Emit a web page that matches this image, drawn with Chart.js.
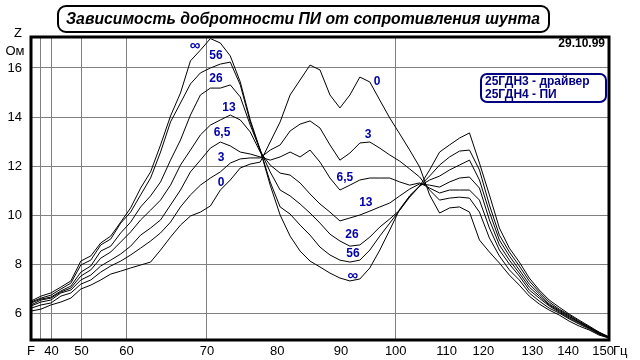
<!DOCTYPE html>
<html>
<head>
<meta charset="utf-8">
<script src="https://cdn.jsdelivr.net/npm/chart.js@4.4.1/dist/chart.umd.min.js"></script>
<style>
  html, body { margin: 0; padding: 0; background: #fff; }
  canvas { display: block; }
</style>
</head>
<body>
<canvas id="chart" width="640" height="360"></canvas>
<script>
// Sample positions along the sweep (the recorder's x axis is not linear in Hz)
const sweepPos = Array.from({ length: 59 }, (_, i) => i);

// x axis marks: where they sit on the sweep, and what is printed under them
const freqTickPos    = [0, 1.0, 2.05, 5.07, 9.58, 17.66, 24.7, 31.1, 36.6, 41.7, 45.4, 50.3, 53.9, 57.4];
const freqTickLabels = ['F', '', '40', '50', '60', '70', '80', '90', '100', '110', '120', '130', '140', '150'];
const freqGrid       = [false, true, true, true, true, true, false, false, true, false, false, false, false, false];

const zTicks = [6, 8, 10, 12, 14, 16];

// Z, Ohm for each shunt resistance
const zInf = [6.49, 6.69, 6.82, 7.06, 7.31, 8.12, 8.33, 8.86, 9.14, 9.71, 10.29, 11.10, 11.76, 12.86, 14.04, 14.98, 16.29, 16.73, 17.20, 17.02,
              16.49, 15.43, 13.88, 12.65, 11.22, 10.00, 9.14, 8.53, 8.12, 7.88, 7.63, 7.43, 7.31, 7.39, 7.84, 8.57, 9.39, 10.24, 10.78, 11.18,
              11.84, 12.57, 12.86, 13.14, 13.35, 12.12, 10.82, 9.47, 8.65, 8.08, 7.43, 6.94, 6.53, 6.24, 5.96, 5.71, 5.47, 5.22, 5.02];
const z56  = [6.45, 6.61, 6.73, 6.98, 7.22, 7.96, 8.16, 8.78, 9.02, 9.67, 10.12, 10.82, 11.51, 12.57, 13.80, 14.57, 15.35, 15.80, 16.00, 16.16,
              16.24, 15.31, 13.80, 12.65, 11.35, 10.33, 10.04, 9.59, 9.18, 8.69, 8.37, 8.16, 8.08, 8.16, 8.57, 9.14, 9.67, 10.20, 10.73, 11.18,
              11.59, 12.04, 12.37, 12.61, 12.65, 11.84, 10.41, 9.18, 8.49, 7.92, 7.31, 6.86, 6.45, 6.16, 5.92, 5.67, 5.43, 5.22, 5.02];
const z26  = [6.41, 6.57, 6.65, 6.90, 7.10, 7.67, 7.92, 8.53, 8.73, 9.27, 9.71, 10.33, 10.78, 11.35, 12.24, 13.06, 14.08, 14.90, 15.18, 15.18,
              15.31, 14.82, 13.67, 12.65, 11.76, 11.02, 10.78, 10.45, 10.08, 9.67, 9.22, 8.94, 8.73, 8.78, 9.10, 9.51, 9.84, 10.20, 10.78, 11.18,
              11.43, 11.59, 11.84, 12.04, 12.24, 11.43, 10.12, 8.98, 8.33, 7.76, 7.18, 6.78, 6.37, 6.12, 5.88, 5.63, 5.43, 5.18, 5.02];
const z13  = [6.33, 6.53, 6.61, 6.86, 7.02, 7.51, 7.76, 8.24, 8.49, 8.90, 9.31, 9.80, 10.20, 10.61, 11.22, 12.04, 12.65, 13.27, 13.67, 13.88,
              14.08, 13.88, 13.39, 12.57, 12.04, 11.71, 11.63, 11.31, 10.86, 10.45, 10.12, 9.76, 9.88, 10.00, 10.16, 10.33, 10.49, 10.78, 11.06, 11.27,
              11.22, 11.14, 11.35, 11.51, 11.55, 11.10, 9.80, 8.78, 8.16, 7.63, 7.06, 6.69, 6.33, 6.08, 5.84, 5.63, 5.39, 5.18, 5.02];
const z6_5 = [6.29, 6.45, 6.53, 6.82, 6.94, 7.35, 7.55, 7.92, 8.16, 8.41, 8.73, 9.18, 9.47, 9.80, 10.41, 11.02, 11.76, 12.24, 12.73, 12.98,
              12.82, 12.57, 12.49, 12.37, 12.24, 12.37, 12.57, 12.37, 12.65, 12.16, 11.51, 11.02, 11.22, 11.43, 11.51, 11.51, 11.51, 11.35, 11.22, 11.31,
              11.10, 10.90, 11.02, 11.02, 11.02, 10.61, 9.47, 8.57, 8.00, 7.51, 6.94, 6.61, 6.29, 6.04, 5.80, 5.59, 5.39, 5.14, 5.02];
const z3   = [6.20, 6.33, 6.41, 6.69, 6.82, 7.18, 7.35, 7.67, 7.92, 8.12, 8.37, 8.65, 8.94, 9.27, 9.71, 10.33, 10.82, 11.22, 11.51, 11.76,
              12.12, 12.29, 12.33, 12.33, 12.65, 12.86, 13.43, 13.71, 13.84, 13.55, 12.86, 12.24, 12.53, 12.94, 12.98, 12.73, 12.45, 12.20, 11.88, 11.55,
              11.02, 10.61, 10.69, 10.73, 10.69, 10.12, 9.06, 8.33, 7.76, 7.35, 6.82, 6.49, 6.20, 6.00, 5.76, 5.55, 5.35, 5.14, 4.98];
const z0   = [6.08, 6.16, 6.33, 6.45, 6.61, 6.98, 7.14, 7.35, 7.59, 7.71, 7.84, 7.96, 8.08, 8.57, 9.10, 9.59, 9.96, 10.12, 10.37, 11.02,
              11.43, 11.92, 12.08, 12.16, 12.98, 13.80, 14.90, 15.51, 16.12, 15.92, 14.90, 14.37, 14.90, 15.63, 15.43, 14.69, 13.96, 13.31, 12.65, 11.96,
              10.82, 10.08, 10.29, 10.33, 10.12, 8.98, 8.49, 8.04, 7.55, 7.14, 6.69, 6.37, 6.12, 5.92, 5.67, 5.47, 5.31, 5.10, 4.98];

const shuntNames = ['∞', '56', '26', '13', '6,5', '3', '0'];
const shuntSeries = [zInf, z56, z26, z13, z6_5, z3, z0];

// where the resistance tags are written (sweep position, Ohm)
const curveTags = [
  { text: '∞',   x: 16.46, y: 16.9 },
  { text: '56',  x: 18.56, y: 16.49 },
  { text: '26',  x: 18.56, y: 15.55 },
  { text: '13',  x: 19.87, y: 14.37 },
  { text: '6,5', x: 19.17, y: 13.35 },
  { text: '3',   x: 19.07, y: 12.33 },
  { text: '0',   x: 19.07, y: 11.31 },
  { text: '0',   x: 34.72, y: 15.43 },
  { text: '3',   x: 33.82, y: 13.27 },
  { text: '6,5', x: 31.5,  y: 11.51 },
  { text: '13',  x: 33.6,  y: 10.49 },
  { text: '26',  x: 32.2,  y: 9.18 },
  { text: '56',  x: 32.3,  y: 8.41 },
  { text: '∞',   x: 32.3,  y: 7.51 }
];

const titleText = 'Зависимость добротности ПИ от сопротивления шунта';
const legendLines = ['25ГДН3 - драйвер', '25ГДН4 - ПИ'];
const dateText = '29.10.99';

const FONT = '"Liberation Sans", Arial, sans-serif';
const BLUE = '#0000a8';

// Frame, title, units, legend and curve tags
const decorPlugin = {
  id: 'decor',
  afterDraw(chart) {
    const { ctx, chartArea: a, scales: { x, y } } = chart;
    ctx.save();

    ctx.strokeStyle = '#000';
    ctx.lineWidth = 3;
    ctx.strokeRect(a.left, a.top, a.right - a.left, a.bottom - a.top);

    // title in a rounded box
    ctx.lineWidth = 2;
    ctx.beginPath();
    ctx.roundRect(58, 6, 491, 26, 8);
    ctx.stroke();
    ctx.fillStyle = '#000';
    ctx.textAlign = 'center';
    ctx.textBaseline = 'middle';
    ctx.font = 'italic bold 16px ' + FONT;
    const w = ctx.measureText(titleText).width;
    ctx.font = 'italic bold ' + (16 * 474 / w).toFixed(2) + 'px ' + FONT;
    ctx.fillText(titleText, 303, 19.5);

    // axis units
    ctx.font = '13px ' + FONT;
    ctx.fillText('Z', 18, 33);
    ctx.fillText('Ом', 15, 51);
    ctx.textAlign = 'left';
    ctx.fillText('Гц', 613, 351);

    ctx.font = 'bold 12px ' + FONT;
    ctx.textAlign = 'right';
    ctx.fillText(dateText, 605, 44);

    // legend box
    ctx.strokeStyle = '#000080';
    ctx.lineWidth = 2;
    ctx.beginPath();
    ctx.roundRect(481, 74, 125, 28, 6);
    ctx.stroke();
    ctx.fillStyle = '#000080';
    ctx.textAlign = 'left';
    ctx.fillText(legendLines[0], 485, 82);
    ctx.fillText(legendLines[1], 485, 95);

    // resistance tags on the curves
    ctx.fillStyle = BLUE;
    ctx.textAlign = 'center';
    curveTags.forEach(tag => {
      ctx.font = (tag.text === '∞' ? 'bold 15px ' : 'bold 12px ') + FONT;
      ctx.fillText(tag.text, x.getPixelForValue(tag.x), y.getPixelForValue(tag.y));
    });

    ctx.restore();
  }
};

new Chart(document.getElementById('chart'), {
  type: 'line',
  data: {
    labels: sweepPos,
    datasets: shuntSeries.map((values, i) => ({
      label: shuntNames[i],
      data: values,
      borderColor: '#000',
      borderWidth: 1,
      pointRadius: 0,
      tension: 0,
      fill: false
    }))
  },
  options: {
    responsive: false,
    animation: false,
    devicePixelRatio: 1,
    layout: { padding: { top: 37, right: 31, left: 0, bottom: 0 } },
    plugins: {
      legend: { display: false },
      tooltip: { enabled: false }
    },
    scales: {
      x: {
        type: 'linear',
        min: 0,
        max: 58,
        afterBuildTicks: scale => { scale.ticks = freqTickPos.map(v => ({ value: v })); },
        afterFit: scale => { scale.height = 20; },
        border: { display: false },
        grid: {
          drawTicks: false,
          color: ctx => freqGrid[ctx.index] ? '#808080' : 'rgba(0,0,0,0)',
          lineWidth: 1
        },
        ticks: {
          autoSkip: false,
          maxRotation: 0,
          padding: 4,
          color: '#000',
          font: { family: FONT, size: 13 },
          callback: (value, index) => freqTickLabels[index]
        }
      },
      y: {
        min: 4.9,
        max: 17.265,
        afterBuildTicks: scale => { scale.ticks = zTicks.map(v => ({ value: v })); },
        afterFit: scale => { scale.width = 31; },
        border: { display: false },
        grid: { drawTicks: false, color: '#808080', lineWidth: 1 },
        ticks: {
          padding: 9,
          color: '#000',
          font: { family: FONT, size: 13 }
        }
      }
    }
  },
  plugins: [decorPlugin]
});
</script>
</body>
</html>
